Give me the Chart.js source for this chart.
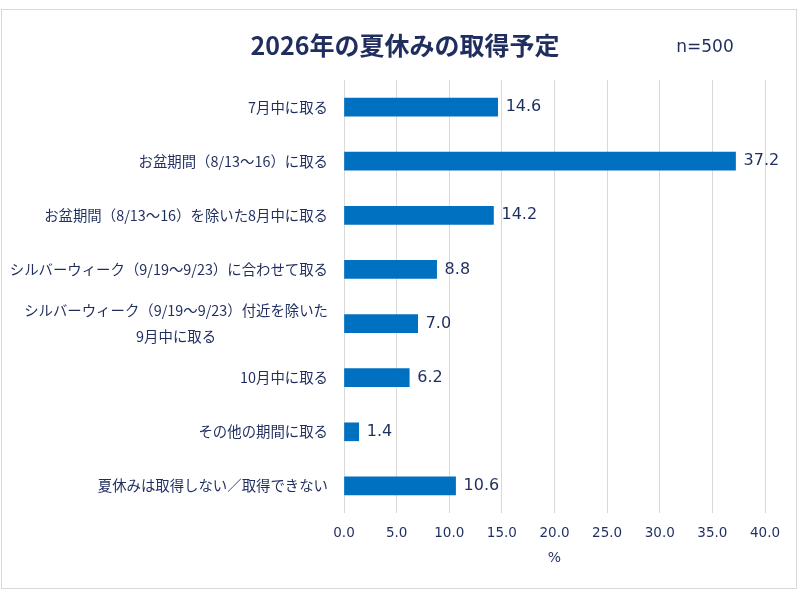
<!DOCTYPE html>
<html>
<head>
<meta charset="utf-8">
<script src="https://cdn.jsdelivr.net/npm/chart.js@4.4.1/dist/chart.umd.min.js"></script>
<style>
  html, body { margin: 0; padding: 0; background: #fff; }
  #wrap { width: 800px; height: 600px; }
</style>
</head>
<body>
<div id="wrap"><canvas id="chart" width="800" height="600"></canvas></div>
<script>
// data
const chartTitle = "2026年の夏休みの取得予定"
const sampleText = "n=500"
const categories = [
    "7月中に取る",
    "お盆期間（8/13〜16）に取る",
    "お盆期間（8/13〜16）を除いた8月中に取る",
    "シルバーウィーク（9/19〜9/23）に合わせて取る",
    ["シルバーウィーク（9/19〜9/23）付近を除いた", "9月中に取る"],
    "10月中に取る",
    "その他の期間に取る",
    "夏休みは取得しない／取得できない"
]
const values = [14.6, 37.2, 14.2, 8.8, 7.0, 6.2, 1.4, 10.6]
const axisMin = 0
const axisMax = 40
const axisStep = 5
const axisTitle = "%"

const textColor = "#1F2E5F"
const jpFont = "'Noto Sans CJK JP', 'Noto Sans', sans-serif"
const numFont = "'DejaVu Sans', Verdana, sans-serif"

// frame, title and n= text
const framePlugin = {
    id: "frame",
    beforeDraw(chart) {
        const ctx = chart.ctx
        ctx.save()
        ctx.fillStyle = "#ffffff"
        ctx.fillRect(0, 0, chart.width, chart.height)
        ctx.strokeStyle = "#d9d9d9"
        ctx.lineWidth = 1
        ctx.strokeRect(1.5, 9.5, 795, 579)
        ctx.restore()
    },
    afterDraw(chart) {
        const ctx = chart.ctx
        ctx.save()
        ctx.fillStyle = textColor
        ctx.textBaseline = "middle"
        ctx.textAlign = "center"
        ctx.font = "bold 25px " + jpFont
        ctx.fillText(chartTitle, 405, 45)
        ctx.font = "17px " + numFont
        ctx.fillText(sampleText, 705, 48)
        ctx.restore()
    }
}

// category labels, multi-line ones centred under each other
const categoryLabelPlugin = {
    id: "categoryLabels",
    afterDraw(chart) {
        const ctx = chart.ctx
        const yScale = chart.scales.y
        const right = chart.chartArea.left - 16
        ctx.save()
        ctx.fillStyle = textColor
        ctx.font = "14.4px " + jpFont
        ctx.textBaseline = "middle"
        ctx.textAlign = "center"
        categories.forEach(function (label, i) {
            const lines = Array.isArray(label) ? label : [label]
            const y = yScale.getPixelForValue(i)
            let maxW = 0
            lines.forEach(function (l) { maxW = Math.max(maxW, ctx.measureText(l).width) })
            const cx = right - maxW / 2
            const lineH = 26
            const startY = y - (lines.length - 1) * lineH / 2
            lines.forEach(function (l, j) {
                ctx.fillText(l, cx, startY + j * lineH)
            })
        })
        ctx.restore()
    }
}

// value labels behind the bars
const valueLabelPlugin = {
    id: "valueLabels",
    afterDatasetsDraw(chart) {
        const ctx = chart.ctx
        const meta = chart.getDatasetMeta(0)
        ctx.save()
        ctx.fillStyle = textColor
        ctx.font = "16px " + numFont
        ctx.textBaseline = "middle"
        ctx.textAlign = "left"
        meta.data.forEach(function (bar, i) {
            ctx.fillText(values[i].toFixed(1), bar.x + 8, bar.y)
        })
        ctx.restore()
    }
}

const ctx = document.getElementById("chart")
const myBarChart = new Chart(ctx, {
    type: "bar",
    data: {
        labels: categories,
        datasets: [{
            data: values,
            backgroundColor: "#0070C0",
            borderWidth: 0,
            barThickness: 18
        }]
    },
    options: {
        indexAxis: "y",
        responsive: false,
        animation: false,
        layout: {
            padding: { top: 80, right: 35, bottom: 33, left: 0 }
        },
        plugins: {
            legend: { display: false },
            tooltip: { enabled: false },
            title: { display: false }
        },
        scales: {
            x: {
                min: axisMin,
                max: axisMax,
                border: { display: false },
                grid: { color: "#d9d9d9", drawTicks: false },
                ticks: {
                    stepSize: axisStep,
                    padding: 12,
                    maxRotation: 0,
                    color: textColor,
                    font: { family: numFont, size: 13.5 },
                    callback: function (v) { return Number(v).toFixed(1) }
                },
                title: {
                    display: true,
                    text: axisTitle,
                    color: textColor,
                    font: { family: numFont, size: 14 },
                    padding: { top: 10, bottom: 0 }
                },
                afterFit: function (scale) { scale.height = 54 }
            },
            y: {
                border: { display: false },
                grid: { display: false, drawTicks: false },
                ticks: { display: false },
                afterFit: function (scale) { scale.width = 344 }
            }
        }
    },
    plugins: [framePlugin, categoryLabelPlugin, valueLabelPlugin]
})
</script>
</body>
</html>
